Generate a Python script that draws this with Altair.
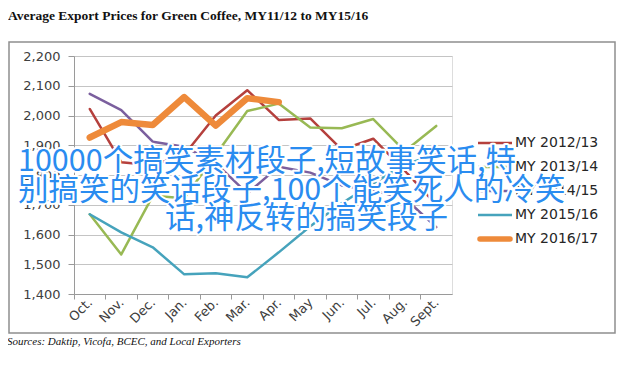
import altair as alt
import pandas as pd

months = ["Oct.", "Nov.", "Dec.", "Jan.", "Feb.", "Mar.", "Apr.", "May", "Jun.", "Jul.", "Aug.", "Sept."]
series_names = ["MY 2012/13", "MY 2013/14", "MY 2014/15", "MY 2015/16", "MY 2016/17"]
my_2012_13 = [2022, 1843, 1833, 1868, 2000, 2085, 1985, 1990, 1885, 1922, 1815, 1700]
my_2013_14 = [1668, 1533, 1730, 1722, 1868, 2015, 2040, 1960, 1957, 1988, 1880, 1965]
my_2014_15 = [2073, 2018, 1912, 1895, 1840, 1738, 1828, 1808, 1765, 1748, 1722, 1625]
my_2015_16 = [1668, 1607, 1557, 1466, 1470, 1456, 1540, 1628, 1705, 1772, 1835, 1870]
my_2016_17 = [1926, 1978, 1968, 2062, 1966, 2058, 2045]
y_ticks = [1400, 1500, 1600, 1700, 1800, 1900, 2000, 2100, 2200]

title_text = "Average Export Prices for Green Coffee, MY11/12 to MY15/16"
source_text = "Sources: Daktip, Vicofa, BCEC, and Local Exporters"
wm_lines = ["10000个搞笑素材段子,短故事笑话,特", "别搞笑的笑话段子,100个能笑死人的冷笑", "话,神反转的搞笑段子"]

colors = ["#b5403d", "#98b954", "#7b5f9e", "#46a3bc", "#ee8a3a"]

rows = []
for name, vals in zip(series_names, [my_2012_13, my_2013_14, my_2014_15, my_2015_16, my_2016_17]):
    for m, v in zip(months, vals):
        rows.append({"month": m, "series": name, "price": v})
df = pd.DataFrame(rows)
thin_names = series_names[:4]
thick_names = series_names[4:]

W, H = 378, 238
FONT = "DejaVu Sans"
AXIS_GRAY = "#9a9a9a"

color_enc = alt.Color("series:N", scale=alt.Scale(domain=series_names, range=colors), legend=None)

x_enc = alt.X("month:O", sort=months, scale=alt.Scale(type="point", padding=0.5),
              axis=alt.Axis(title=None, orient="bottom", labelAngle=-45, labelAlign="right",
                            labelBaseline="middle", labelPadding=6, ticks=False,
                            labelFont=FONT, labelFontSize=13,
                            labelColor="#404040", domainColor=AXIS_GRAY))
y_enc = alt.Y("price:Q", scale=alt.Scale(domain=[1400, 2200], nice=False, zero=False),
              axis=alt.Axis(title=None, values=y_ticks, format=",.0f", tickSize=6, labelPadding=8,
                            labelFont=FONT, labelFontSize=13, labelColor="#404040",
                            gridColor="#c4c4c4", domainColor=AXIS_GRAY, tickColor=AXIS_GRAY))

base = alt.Chart(df)
lines_thin = base.transform_filter(
    alt.FieldOneOfPredicate(field="series", oneOf=thin_names)
).mark_line(strokeJoin="round", strokeCap="round", strokeWidth=2.5).encode(
    x=x_enc, y=y_enc, color=color_enc, detail="series:N")
lines_thick = base.transform_filter(
    alt.FieldOneOfPredicate(field="series", oneOf=thick_names)
).mark_line(strokeJoin="round", strokeCap="round", strokeWidth=6.5).encode(
    x=x_enc, y=y_enc, color=color_enc, detail="series:N")
lines = alt.layer(lines_thin, lines_thick)

# category-boundary ticks (Excel style), drawn by a band-scale axis
month_df = pd.DataFrame({"month": months})
boundary_ticks = alt.Chart(month_df).mark_point(opacity=0).encode(
    x=alt.X("month:O", sort=months, scale=alt.Scale(type="band", paddingInner=0, paddingOuter=0),
            axis=alt.Axis(title=None, orient="bottom", labels=False, domain=False, grid=False,
                          tickSize=5, bandPosition=0, tickColor=AXIS_GRAY)),
    y=alt.value(0))

legend_df = pd.DataFrame({"series": series_names})
leg_y = alt.Y("series:N", sort=series_names, scale=alt.Scale(type="point", range=[87, 183], padding=0), axis=None)
leg_base = alt.Chart(legend_df)
legend_thin = leg_base.transform_filter(
    alt.FieldOneOfPredicate(field="series", oneOf=thin_names)
).mark_rule(strokeCap="butt", strokeWidth=2.5).encode(
    x=alt.value(404), x2=alt.value(438), y=leg_y, color=color_enc)
legend_thick = leg_base.transform_filter(
    alt.FieldOneOfPredicate(field="series", oneOf=thick_names)
).mark_rule(strokeCap="round", strokeWidth=5.5).encode(
    x=alt.value(406), x2=alt.value(436), y=leg_y, color=color_enc)
legend_text = leg_base.mark_text(align="left", baseline="middle", font=FONT,
                                 fontSize=14, color="#262626").encode(
    x=alt.value(441), y=leg_y, text="series:N")
legend = alt.layer(legend_thin, legend_thick, legend_text)

one = pd.DataFrame({"a": [0]})
border = alt.Chart(one).mark_rect(filled=False, stroke="#8f8f8f", strokeWidth=1.5).encode(
    x=alt.value(-65), x2=alt.value(541), y=alt.value(-14), y2=alt.value(277))

title = alt.Chart(pd.DataFrame({"t": [title_text]})).mark_text(
    align="left", baseline="middle", font="Liberation Serif", fontWeight="bold", fontSize=13.5,
    color="#111111").encode(x=alt.value(-66), y=alt.value(-40), text="t:N")
source = alt.Chart(pd.DataFrame({"t": [source_text]})).mark_text(
    align="left", baseline="middle", font="Liberation Serif", fontStyle="italic", fontSize=11,
    color="#111111").encode(x=alt.value(-67), y=alt.value(286), text="t:N")

wm_df = pd.DataFrame({"t": wm_lines, "x": [-56, -56, 91], "y": [106, 135, 163]})
wm_x = alt.X("x:Q", scale=None)
wm_y = alt.Y("y:Q", scale=None)
wm_halo = alt.Chart(wm_df).mark_text(
    align="left", baseline="middle", font="Noto Sans CJK SC", fontSize=30.5, fill="white",
    stroke="white", strokeWidth=4, strokeJoin="round").encode(x=wm_x, y=wm_y, text="t:N")
wm_text = alt.Chart(wm_df).mark_text(
    align="left", baseline="middle", font="Noto Sans CJK SC", fontSize=30.5,
    fill="#2a8cf0").encode(x=wm_x, y=wm_y, text="t:N")

chart = alt.layer(border, boundary_ticks, lines, legend, title, source, wm_halo, wm_text).resolve_scale(
    y="independent", x="independent"
).properties(
    width=W, height=H,
    autosize=alt.AutoSizeParams(type="none"),
    padding={"left": 66, "top": 48, "right": 168, "bottom": 70},
).configure_view(stroke=None).configure(background="white")

chart.save("out.html", embed_options={"renderer": "svg", "actions": False})
